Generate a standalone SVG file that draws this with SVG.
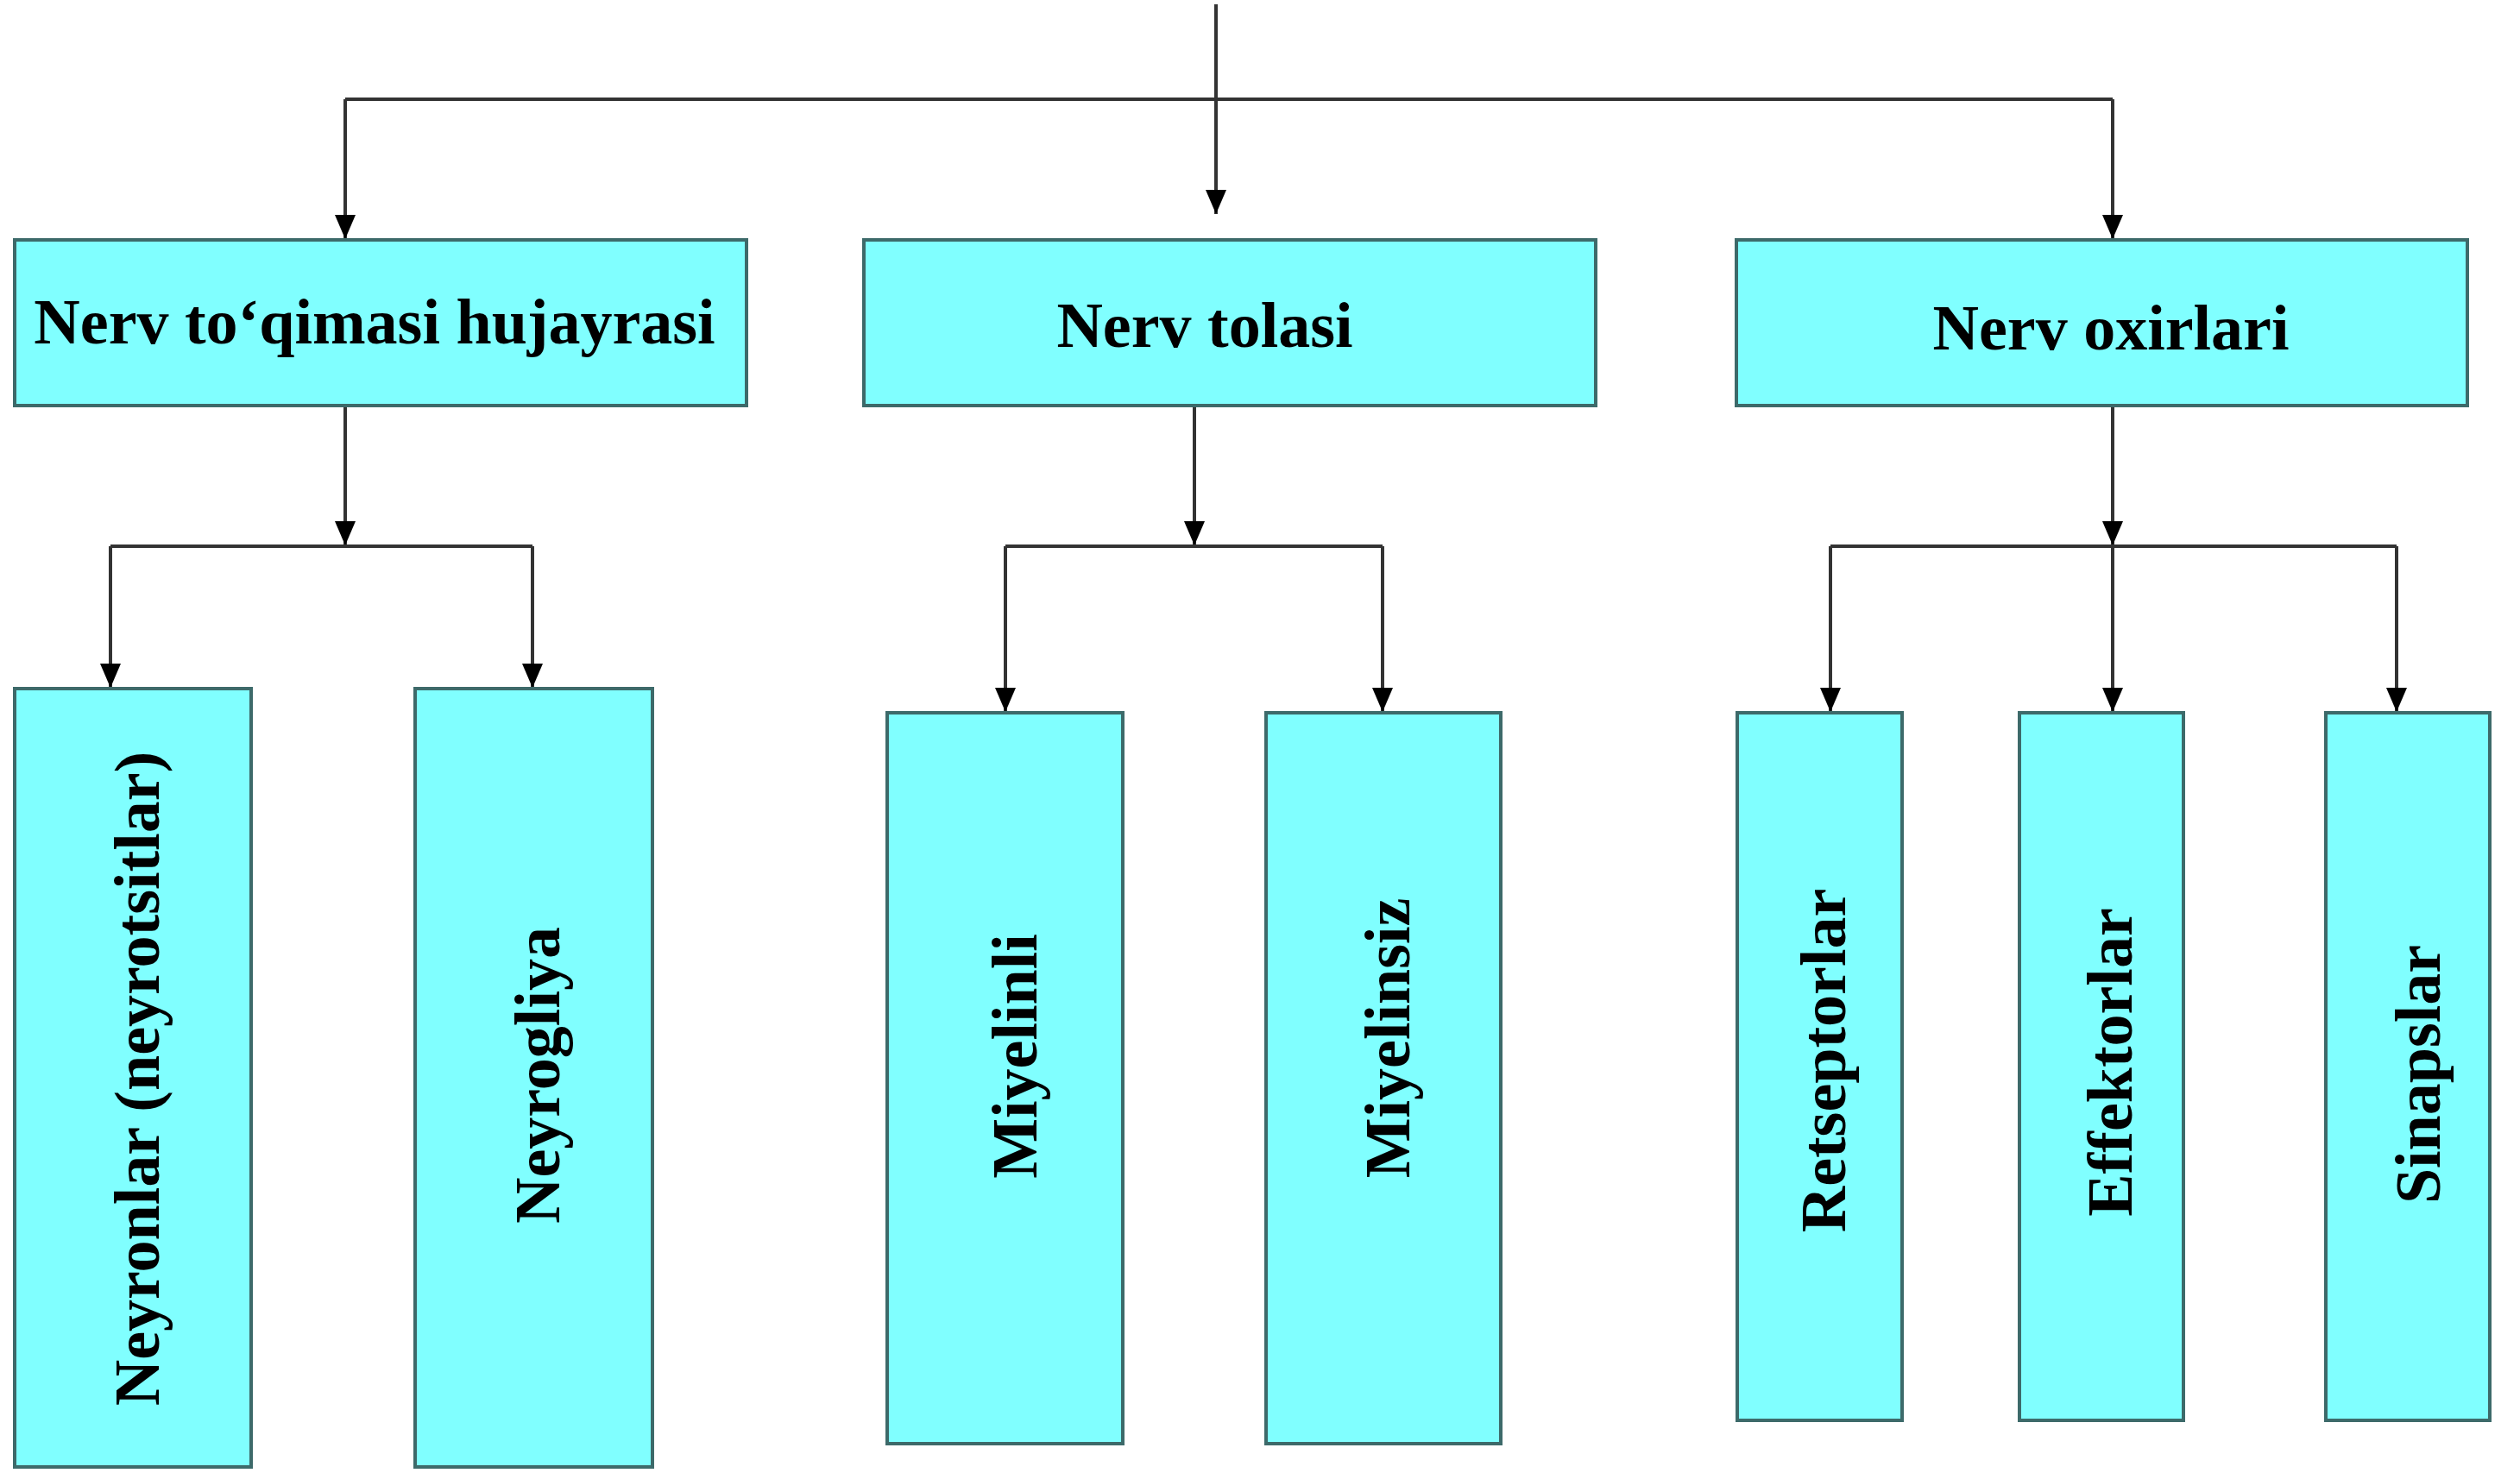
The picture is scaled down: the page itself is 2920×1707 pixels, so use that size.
<svg xmlns="http://www.w3.org/2000/svg" width="2920" height="1707" viewBox="0 0 2920 1707">
<style>
.box{fill:#80FFFF;stroke:#3d6a6a;stroke-width:4}
.lbl{font-family:"Liberation Serif","Times New Roman",serif;font-weight:bold;font-size:74px;fill:#000;text-anchor:middle}
.con{fill:none;stroke:#333333;stroke-width:4}
</style>
<defs>
<marker id="arr" viewBox="0 0 28 24" refX="28" refY="12" markerWidth="28" markerHeight="24" markerUnits="userSpaceOnUse" orient="auto">
<path d="M0,0 L28,12 L0,24 Z" fill="#000"/>
</marker>
</defs>
<rect width="2920" height="1707" fill="#fff"/>
<g id="connectors">
<path class="con" d="M1409,5 V248" marker-end="url(#arr)"/>
<path class="con" d="M400,115 H2448"/>
<path class="con" d="M400,115 V277" marker-end="url(#arr)"/>
<path class="con" d="M2448,115 V277" marker-end="url(#arr)"/>
<path class="con" d="M400,470 V632" marker-end="url(#arr)"/>
<path class="con" d="M128,633 H617"/>
<path class="con" d="M128,633 V797" marker-end="url(#arr)"/>
<path class="con" d="M617,633 V797" marker-end="url(#arr)"/>
<path class="con" d="M1384,470 V632" marker-end="url(#arr)"/>
<path class="con" d="M1165,633 H1602"/>
<path class="con" d="M1165,633 V825" marker-end="url(#arr)"/>
<path class="con" d="M1602,633 V825" marker-end="url(#arr)"/>
<path class="con" d="M2448,470 V632" marker-end="url(#arr)"/>
<path class="con" d="M2121,633 H2777"/>
<path class="con" d="M2121,633 V825" marker-end="url(#arr)"/>
<path class="con" d="M2448,633 V825" marker-end="url(#arr)"/>
<path class="con" d="M2777,633 V825" marker-end="url(#arr)"/>
</g>
<g id="n-hujayrasi">
<rect class="box" x="17" y="278" width="848" height="192"/>
<text class="lbl" x="434" y="398">Nerv to‘qimasi hujayrasi</text>
</g>
<g id="n-tolasi">
<rect class="box" x="1001" y="278" width="848" height="192"/>
<text class="lbl" x="1396" y="402">Nerv tolasi</text>
</g>
<g id="n-oxirlari">
<rect class="box" x="2012" y="278" width="847" height="192"/>
<text class="lbl" x="2446" y="405">Nerv oxirlari</text>
</g>
<g id="n-neyronlar">
<rect class="box" x="17" y="798" width="274" height="902"/>
<text class="lbl" transform="translate(184,1250) rotate(-90)">Neyronlar (neyrotsitlar)</text>
</g>
<g id="n-neyrogliya">
<rect class="box" x="481" y="798" width="275" height="902"/>
<text class="lbl" transform="translate(648,1246) rotate(-90)">Neyrogliya</text>
</g>
<g id="n-miyelinli">
<rect class="box" x="1028" y="826" width="273" height="847"/>
<text class="lbl" transform="translate(1201,1224) rotate(-90)">Miyelinli</text>
</g>
<g id="n-miyelinsiz">
<rect class="box" x="1467" y="826" width="272" height="847"/>
<text class="lbl" transform="translate(1633,1203) rotate(-90)">Miyelinsiz</text>
</g>
<g id="n-retseptorlar">
<rect class="box" x="2013" y="826" width="191" height="820"/>
<text class="lbl" transform="translate(2138,1229) rotate(-90)">Retseptorlar</text>
</g>
<g id="n-effektorlar">
<rect class="box" x="2340" y="826" width="190" height="820"/>
<text class="lbl" transform="translate(2470,1231) rotate(-90)">Effektorlar</text>
</g>
<g id="n-sinapslar">
<rect class="box" x="2695" y="826" width="190" height="820"/>
<text class="lbl" transform="translate(2827,1245) rotate(-90)">Sinapslar</text>
</g>
</svg>
